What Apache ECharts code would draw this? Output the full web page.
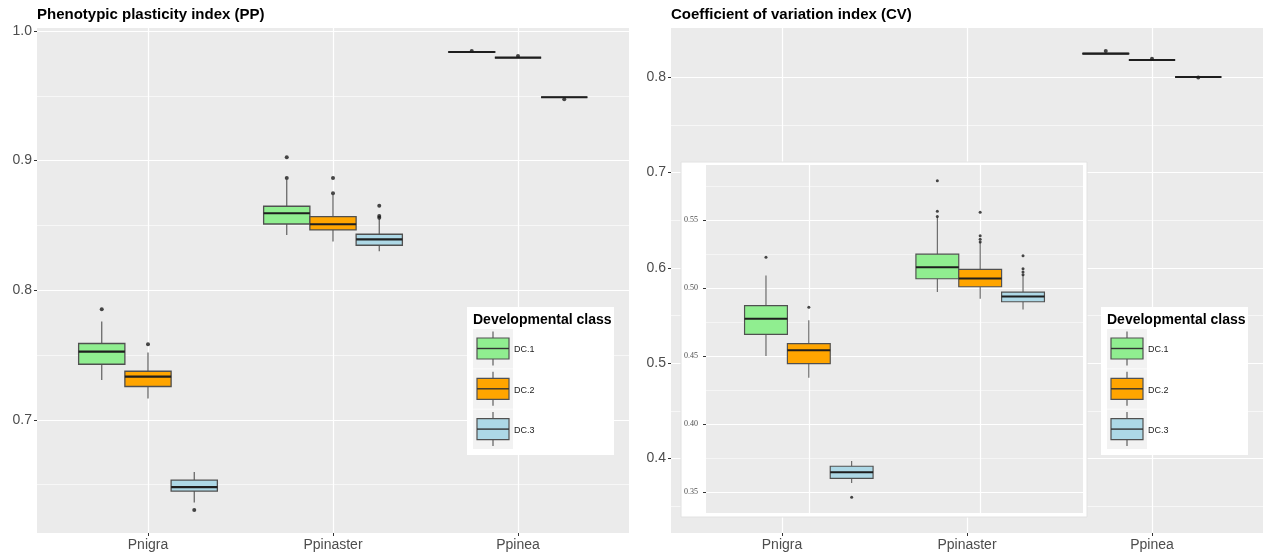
<!DOCTYPE html>
<html>
<head>
<meta charset="utf-8">
<script src="https://cdn.jsdelivr.net/npm/echarts@6/dist/echarts.min.js"></script>
<style>
  html, body { margin: 0; padding: 0; background: #ffffff; }
  #chart { width: 1264px; height: 556px; }
</style>
</head>
<body>
<div id="chart"></div>
<script>
// ---- data ---------------------------------------------------------------
const species = ['Pnigra', 'Ppinaster', 'Ppinea'];
const classes = ['DC.1', 'DC.2', 'DC.3'];
const classColors = ['#90EE90', '#FFA500', '#ADD8E6'];

// Phenotypic plasticity index: [min, Q1, median, Q3, max] per species
const ppDC1 = [[0.7308, 0.7429, 0.7527, 0.7589, 0.7758], [0.8426, 0.8511, 0.8594, 0.8648, 0.8852], [0.9836, 0.9836, 0.9838, 0.9840, 0.9840]];
const ppDC2 = [[0.7164, 0.7257, 0.7334, 0.7375, 0.7519], [0.8375, 0.8465, 0.8509, 0.8568, 0.8735], [0.9794, 0.9794, 0.9794, 0.9794, 0.9794]];
const ppDC3 = [[0.6362, 0.6450, 0.6481, 0.6535, 0.6597], [0.8301, 0.8347, 0.8393, 0.8432, 0.8552], [0.9489, 0.9489, 0.9489, 0.9489, 0.9489]];
// outlying observations per species
const ppOutDC1 = [[0.7854], [0.9025, 0.8866], [0.9846]];
const ppOutDC2 = [[0.7583], [0.8866, 0.8748], [0.9807]];
const ppOutDC3 = [[0.6304], [0.8652, 0.8573, 0.8560], [0.9473]];

// Coefficient of variation index
const cvDC1 = [[0.4500, 0.4660, 0.4775, 0.4871, 0.5093], [0.4971, 0.5069, 0.5154, 0.5250, 0.5522], [0.8243, 0.8243, 0.8246, 0.8249, 0.8249]];
const cvDC2 = [[0.4341, 0.4444, 0.4542, 0.4591, 0.4763], [0.4922, 0.5010, 0.5071, 0.5138, 0.5338], [0.8179, 0.8179, 0.8179, 0.8179, 0.8179]];
const cvDC3 = [[0.3565, 0.3600, 0.3645, 0.3689, 0.3727], [0.4843, 0.4900, 0.4939, 0.4971, 0.5093], [0.8001, 0.8001, 0.8001, 0.8001, 0.8001]];
const cvOutDC1 = [[0.5228], [0.5790, 0.5566, 0.5527], [0.8274]];
const cvOutDC2 = [[0.4860], [0.5559, 0.5385, 0.5360, 0.5340], [0.8193]];
const cvOutDC3 = [[0.3461], [0.5238, 0.5143, 0.5118, 0.5099], [0.7997]];

// axis breaks
const ppTicks = [0.7, 0.8, 0.9, 1.0];
const ppMinor = [0.65, 0.75, 0.85, 0.95];
const cvTicks = [0.4, 0.5, 0.6, 0.7, 0.8];
const cvMinor = [0.35, 0.45, 0.55, 0.65, 0.75];
const zoomTicks = [0.35, 0.40, 0.45, 0.50, 0.55];
const zoomMinor = [0.375, 0.425, 0.475, 0.525, 0.575];
const zoomSpecies = 2; // the inset panel shows the first two species

const ppStats = [ppDC1, ppDC2, ppDC3];
const ppOuts = [ppOutDC1, ppOutDC2, ppOutDC3];
const cvStats = [cvDC1, cvDC2, cvDC3];
const cvOuts = [cvOutDC1, cvOutDC2, cvOutDC3];

// ---- helpers ------------------------------------------------------------
const FONT = '"Liberation Sans", Arial, sans-serif';
const dodge = [-0.25, 0, 0.25];   // 0.75 dodge width split over three classes

// data range padded by 5% on each side
function paddedRange(statsList, outsList, nSpecies) {
  let lo = Infinity, hi = -Infinity;
  statsList.forEach(st => st.slice(0, nSpecies).forEach(r => r.forEach(v => { lo = Math.min(lo, v); hi = Math.max(hi, v); })));
  outsList.forEach(os => os.slice(0, nSpecies).forEach(r => r.forEach(v => { lo = Math.min(lo, v); hi = Math.max(hi, v); })));
  const pad = (hi - lo) * 0.05;
  return [lo - pad, hi + pad];
}
const ppRange = paddedRange(ppStats, ppOuts, 3);
const cvRange = paddedRange(cvStats, cvOuts, 3);
const zoomRange = paddedRange(cvStats, cvOuts, zoomSpecies);

function boxRenderer(lineScale) {
  return function (params, api) {
    const x = api.value(0);
    const pLo = api.coord([x, api.value(1)]);
    const pQ1 = api.coord([x, api.value(2)]);
    const pMed = api.coord([x, api.value(3)]);
    const pQ3 = api.coord([x, api.value(4)]);
    const pHi = api.coord([x, api.value(5)]);
    const w = api.size([0.25, 0])[0];
    const cx = pMed[0];
    const left = cx - w / 2;
    const fill = api.visual('color');
    return {
      type: 'group',
      children: [
        { type: 'line', shape: { x1: cx, y1: pHi[1], x2: cx, y2: pQ3[1] }, style: { stroke: '#5e5e5e', lineWidth: 1.2 * lineScale } },
        { type: 'line', shape: { x1: cx, y1: pQ1[1], x2: cx, y2: pLo[1] }, style: { stroke: '#5e5e5e', lineWidth: 1.2 * lineScale } },
        { type: 'rect', shape: { x: left, y: pQ3[1], width: w, height: pQ1[1] - pQ3[1] }, style: { fill: fill, stroke: '#505050', lineWidth: 1.3 * lineScale } },
        { type: 'line', shape: { x1: left, y1: pMed[1], x2: left + w, y2: pMed[1] }, style: { stroke: '#1e1e1e', lineWidth: 2.2 * lineScale } }
      ]
    };
  };
}

function boxData(stats, nSpecies, k) {
  return stats.slice(0, nSpecies).map((row, i) => [i + 1 + dodge[k]].concat(row));
}
function outlierData(outs, nSpecies, k) {
  const pts = [];
  outs.slice(0, nSpecies).forEach((row, i) => row.forEach(v => pts.push([i + 1 + dodge[k], v])));
  return pts;
}

function panelSeries(statsList, outsList, nSpecies, axisIdx, z, lineScale, dotSize) {
  const out = [];
  classes.forEach((c, k) => {
    out.push({
      type: 'custom', name: c, xAxisIndex: axisIdx, yAxisIndex: axisIdx * 2, z: z,
      itemStyle: { color: classColors[k] },
      renderItem: boxRenderer(lineScale),
      encode: { x: 0, y: [1, 2, 3, 4, 5] },
      data: boxData(statsList[k], nSpecies, k)
    });
    out.push({
      type: 'scatter', name: c, xAxisIndex: axisIdx, yAxisIndex: axisIdx * 2, z: z + 1,
      symbol: 'circle', symbolSize: dotSize,
      itemStyle: { color: '#1a1a1a' },
      data: outlierData(outsList[k], nSpecies, k)
    });
  });
  return out;
}

function xAxisFor(grid, maxX, nSpecies, showLabels, z) {
  const vals = species.slice(0, nSpecies).map((s, i) => i + 1);
  return {
    type: 'value', gridIndex: grid, min: 0.4, max: maxX, z: z,
    axisLine: { show: false },
    axisTick: { show: showLabels, length: 3, lineStyle: { color: '#333333', width: 1 }, customValues: vals },
    axisLabel: {
      show: showLabels, customValues: vals, margin: 5,
      fontSize: 14, color: '#4d4d4d', fontFamily: FONT,
      formatter: v => species[Math.round(v) - 1]
    },
    splitLine: { show: true, lineStyle: { color: '#ffffff', width: 1.2 } }
  };
}

function yAxesFor(grid, range, major, minor, labelStyle, digits, z, majorWidth, minorWidth) {
  return [
    {
      type: 'value', gridIndex: grid, min: range[0], max: range[1], z: z,
      axisLine: { show: false },
      axisTick: { show: true, length: 3, lineStyle: { color: '#333333', width: 1 }, customValues: major },
      axisLabel: Object.assign({ customValues: major, formatter: v => v.toFixed(digits) }, labelStyle),
      splitLine: { show: true, lineStyle: { color: '#ffffff', width: majorWidth } }
    },
    {
      type: 'value', gridIndex: grid, min: range[0], max: range[1], z: z, position: 'left',
      axisLine: { show: false },
      axisTick: { show: false, customValues: minor },
      axisLabel: { show: false },
      splitLine: { show: true, lineStyle: { color: '#ffffff', width: minorWidth } }
    }
  ];
}

// legend drawn as a key panel: title, grey key squares, box glyphs and labels
function legendElements(ox, oy) {
  const els = [];
  els.push({ type: 'rect', z: 40, shape: { x: ox, y: oy, width: 147, height: 148 }, style: { fill: '#ffffff' } });
  els.push({ type: 'text', z: 41, style: { x: ox + 6, y: oy + 13.5, text: 'Developmental class', font: 'bold 14px ' + FONT, fill: '#000000', verticalAlign: 'middle', align: 'left' } });
  classes.forEach((c, k) => {
    const ky = oy + 22 + k * 40.3;
    els.push({ type: 'rect', z: 41, shape: { x: ox + 6, y: ky, width: 40, height: 39.5 }, style: { fill: '#F2F2F2' } });
    els.push({ type: 'line', z: 42, shape: { x1: ox + 26, y1: ky + 2.5, x2: ox + 26, y2: ky + 36.5 }, style: { stroke: '#5e5e5e', lineWidth: 1.2 } });
    els.push({ type: 'rect', z: 43, shape: { x: ox + 10, y: ky + 9, width: 32, height: 21 }, style: { fill: classColors[k], stroke: '#505050', lineWidth: 1.2 } });
    els.push({ type: 'line', z: 44, shape: { x1: ox + 10, y1: ky + 19.5, x2: ox + 42, y2: ky + 19.5 }, style: { stroke: '#333333', lineWidth: 1.4 } });
    els.push({ type: 'text', z: 44, style: { x: ox + 47, y: ky + 21, text: c, font: '9px ' + FONT, fill: '#222222', verticalAlign: 'middle', align: 'left' } });
  });
  return els;
}

const labelMain = { fontSize: 14, color: '#4d4d4d', fontFamily: FONT, margin: 5 };
const labelInset = { fontSize: 8, color: '#4d4d4d', fontFamily: '"Liberation Serif", "DejaVu Serif", serif', margin: 8 };

const option = {
  animation: false,
  backgroundColor: '#ffffff',
  textStyle: { fontFamily: FONT },
  title: [
    { text: 'Phenotypic plasticity index (PP)', left: 37, top: 7, padding: 0, textStyle: { fontSize: 15, fontWeight: 'bold', color: '#000000', fontFamily: FONT } },
    { text: 'Coefficient of variation index (CV)', left: 671, top: 7, padding: 0, textStyle: { fontSize: 15, fontWeight: 'bold', color: '#000000', fontFamily: FONT } }
  ],
  grid: [
    { left: 37, top: 28, width: 592, height: 505, show: true, backgroundColor: '#EBEBEB', borderWidth: 0, z: 0 },
    { left: 671, top: 28, width: 592, height: 505, show: true, backgroundColor: '#EBEBEB', borderWidth: 0, z: 0 },
    { left: 706, top: 165, width: 377, height: 348, show: true, backgroundColor: '#EBEBEB', borderWidth: 0, z: 21 }
  ],
  xAxis: [
    xAxisFor(0, 3.6, 3, true, 0),
    xAxisFor(1, 3.6, 3, true, 0),
    xAxisFor(2, 2.6, zoomSpecies, false, 22)
  ],
  yAxis: [].concat(
    yAxesFor(0, ppRange, ppTicks, ppMinor, labelMain, 1, 0, 1.2, 0.6),
    yAxesFor(1, cvRange, cvTicks, cvMinor, labelMain, 1, 0, 1.2, 0.6),
    yAxesFor(2, zoomRange, zoomTicks, zoomMinor, labelInset, 2, 22, 1.0, 0.5)
  ),
  graphic: {
    elements: [
      // white frame that holds the zoomed panel
      { type: 'rect', z: 20, shape: { x: 681, y: 162, width: 406, height: 355 }, style: { fill: '#ffffff', stroke: '#e2e2e2', lineWidth: 1 } }
    ].concat(legendElements(467, 307), legendElements(1101, 307))
  },
  series: [].concat(
    panelSeries(ppStats, ppOuts, 3, 0, 2, 1, 4),
    panelSeries(cvStats, cvOuts, 3, 1, 2, 1, 4),
    panelSeries(cvStats, cvOuts, zoomSpecies, 2, 23, 0.9, 3)
  )
};

const chart = echarts.init(document.getElementById('chart'), null, { renderer: 'canvas' });
chart.setOption(option);
</script>
</body>
</html>
